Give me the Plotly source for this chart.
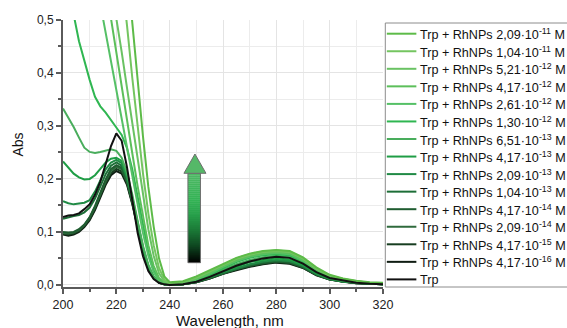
import plotly.graph_objects as go

# ---------------- data ----------------
wavelength = [200, 202, 204, 206, 208, 210, 212, 214, 216, 218, 220, 222, 224, 226, 228, 230,
              232, 234, 236, 238, 240, 245, 250, 255, 260, 265, 270, 275, 280, 285, 290, 295,
              300, 305, 310, 315, 320]

series_names = [
    "Trp + RhNPs 2,09·10<sup>-11</sup> M",
    "Trp + RhNPs 1,04·10<sup>-11</sup> M",
    "Trp + RhNPs 5,21·10<sup>-12</sup> M",
    "Trp + RhNPs 4,17·10<sup>-12</sup> M",
    "Trp + RhNPs 2,61·10<sup>-12</sup> M",
    "Trp + RhNPs 1,30·10<sup>-12</sup> M",
    "Trp + RhNPs 6,51·10<sup>-13</sup> M",
    "Trp + RhNPs 4,17·10<sup>-13</sup> M",
    "Trp + RhNPs 2,09·10<sup>-13</sup> M",
    "Trp + RhNPs 1,04·10<sup>-13</sup> M",
    "Trp + RhNPs 4,17·10<sup>-14</sup> M",
    "Trp + RhNPs 2,09·10<sup>-14</sup> M",
    "Trp + RhNPs 4,17·10<sup>-15</sup> M",
    "Trp + RhNPs 4,17·10<sup>-16</sup> M",
    "Trp",
]

abs_2_09e11 = [2.0, 1.9, 1.8, 1.7, 1.55, 1.42, 1.28, 1.15, 1.03, 0.92, 0.82, 0.72, 0.606, 0.494, 0.385, 0.280,
               0.185, 0.110, 0.050, 0.016, 0.005, 0.007, 0.016, 0.028, 0.040, 0.051, 0.059, 0.064, 0.066, 0.064, 0.052, 0.033,
               0.019, 0.012, 0.008, 0.005, 0.004]
abs_1_04e11 = [1.7, 1.6, 1.5, 1.4, 1.28, 1.16, 1.04, 0.93, 0.84, 0.75, 0.67, 0.585, 0.49, 0.39, 0.295, 0.21,
               0.135, 0.075, 0.032, 0.010, 0.003, 0.006, 0.014, 0.026, 0.038, 0.049, 0.057, 0.062, 0.064, 0.062, 0.050, 0.031,
               0.018, 0.011, 0.007, 0.004, 0.003]
abs_5_21e12 = [1.4, 1.3, 1.2, 1.1, 0.99, 0.88, 0.78, 0.70, 0.63, 0.565, 0.505, 0.44, 0.372, 0.305, 0.235, 0.168,
               0.105, 0.055, 0.022, 0.007, 0.002, 0.005, 0.013, 0.025, 0.038, 0.050, 0.058, 0.063, 0.065, 0.063, 0.050, 0.031,
               0.017, 0.011, 0.007, 0.004, 0.003]
abs_4_17e12 = [1.25, 1.15, 1.05, 0.95, 0.86, 0.78, 0.70, 0.63, 0.565, 0.506, 0.443, 0.378, 0.312, 0.248, 0.186, 0.127,
               0.075, 0.036, 0.013, 0.004, 0.001, 0.004, 0.012, 0.023, 0.036, 0.047, 0.055, 0.060, 0.062, 0.060, 0.048, 0.029,
               0.016, 0.010, 0.006, 0.003, 0.002]
abs_2_61e12 = [1.1, 0.98, 0.88, 0.79, 0.71, 0.64, 0.58, 0.53, 0.476, 0.422, 0.368, 0.313, 0.258, 0.202, 0.148, 0.098,
               0.055, 0.024, 0.008, 0.003, 0.001, 0.003, 0.010, 0.021, 0.034, 0.045, 0.053, 0.058, 0.060, 0.058, 0.046, 0.028,
               0.015, 0.009, 0.005, 0.003, 0.002]
abs_1_30e12 = [0.66, 0.58, 0.51, 0.46, 0.422, 0.387, 0.355, 0.337, 0.325, 0.312, 0.297, 0.283, 0.258, 0.218, 0.168, 0.112,
               0.062, 0.027, 0.009, 0.003, 0.001, 0.003, 0.009, 0.020, 0.032, 0.043, 0.051, 0.056, 0.058, 0.056, 0.045, 0.027,
               0.015, 0.009, 0.005, 0.003, 0.002]
abs_6_51e13 = [0.333, 0.316, 0.298, 0.278, 0.259, 0.251, 0.249, 0.251, 0.253, 0.256, 0.253, 0.240, 0.212, 0.170, 0.120, 0.074,
               0.038, 0.016, 0.005, 0.001, 0.0, 0.002, 0.008, 0.018, 0.029, 0.039, 0.047, 0.052, 0.055, 0.053, 0.042, 0.025,
               0.014, 0.008, 0.005, 0.003, 0.001]
abs_4_17e13 = [0.233, 0.222, 0.210, 0.203, 0.199, 0.200, 0.207, 0.219, 0.231, 0.238, 0.240, 0.234, 0.207, 0.165, 0.116, 0.071,
               0.036, 0.015, 0.005, 0.001, 0.0, 0.002, 0.007, 0.016, 0.026, 0.035, 0.043, 0.047, 0.050, 0.048, 0.038, 0.022,
               0.012, 0.007, 0.004, 0.002, 0.001]
abs_2_09e13 = [0.158, 0.154, 0.152, 0.153, 0.155, 0.160, 0.176, 0.197, 0.218, 0.231, 0.236, 0.230, 0.203, 0.162, 0.113, 0.069,
               0.035, 0.015, 0.005, 0.001, 0.0, 0.001, 0.006, 0.014, 0.024, 0.032, 0.039, 0.044, 0.047, 0.045, 0.036, 0.021,
               0.011, 0.007, 0.004, 0.002, 0.001]
abs_1_04e13 = [0.125, 0.128, 0.130, 0.132, 0.137, 0.146, 0.163, 0.186, 0.209, 0.225, 0.231, 0.225, 0.199, 0.159, 0.111, 0.068,
               0.034, 0.014, 0.005, 0.001, 0.0, 0.001, 0.006, 0.014, 0.023, 0.031, 0.038, 0.043, 0.046, 0.044, 0.035, 0.020,
               0.011, 0.006, 0.004, 0.002, 0.001]
abs_4_17e14 = [0.100, 0.099, 0.100, 0.105, 0.114, 0.128, 0.149, 0.174, 0.199, 0.219, 0.226, 0.221, 0.197, 0.158, 0.110, 0.067,
               0.034, 0.014, 0.005, 0.001, 0.0, 0.001, 0.005, 0.013, 0.022, 0.030, 0.036, 0.041, 0.044, 0.042, 0.033, 0.019,
               0.010, 0.006, 0.003, 0.002, 0.001]
abs_2_09e14 = [0.098, 0.097, 0.099, 0.104, 0.113, 0.127, 0.147, 0.171, 0.196, 0.215, 0.223, 0.218, 0.195, 0.156, 0.109, 0.066,
               0.033, 0.014, 0.005, 0.001, 0.0, 0.001, 0.006, 0.013, 0.022, 0.031, 0.037, 0.042, 0.045, 0.043, 0.034, 0.020,
               0.011, 0.006, 0.004, 0.002, 0.001]
abs_4_17e15 = [0.096, 0.095, 0.097, 0.102, 0.111, 0.124, 0.144, 0.168, 0.192, 0.211, 0.219, 0.214, 0.192, 0.154, 0.108, 0.065,
               0.033, 0.013, 0.004, 0.001, 0.0, 0.001, 0.005, 0.012, 0.021, 0.029, 0.035, 0.040, 0.043, 0.041, 0.032, 0.019,
               0.010, 0.006, 0.003, 0.002, 0.001]
abs_4_17e16 = [0.095, 0.093, 0.095, 0.100, 0.109, 0.122, 0.141, 0.165, 0.189, 0.207, 0.215, 0.210, 0.189, 0.152, 0.106, 0.064,
               0.032, 0.013, 0.004, 0.001, 0.0, 0.001, 0.005, 0.012, 0.021, 0.028, 0.034, 0.039, 0.042, 0.040, 0.032, 0.018,
               0.010, 0.006, 0.003, 0.002, 0.001]
abs_trp = [0.128, 0.131, 0.132, 0.135, 0.143, 0.152, 0.170, 0.195, 0.228, 0.262, 0.286, 0.272, 0.222, 0.158, 0.098, 0.054,
           0.026, 0.011, 0.004, 0.001, 0.0, 0.001, 0.006, 0.015, 0.026, 0.036, 0.044, 0.050, 0.053, 0.051, 0.040, 0.024,
           0.013, 0.008, 0.004, 0.002, 0.001]

series_values = [abs_2_09e11, abs_1_04e11, abs_5_21e12, abs_4_17e12, abs_2_61e12, abs_1_30e12,
                 abs_6_51e13, abs_4_17e13, abs_2_09e13, abs_1_04e13, abs_4_17e14, abs_2_09e14,
                 abs_4_17e15, abs_4_17e16, abs_trp]

x_ticks = [200, 220, 240, 260, 280, 300, 320]
y_ticks = [0.0, 0.1, 0.2, 0.3, 0.4, 0.5]

# ---------------- styles ----------------
colors = ['#5dbb48', '#74c560', '#6ac263', '#5cbf5a', '#55c066', '#2fb651', '#49ad5c',
          '#1f9d45', '#208a45', '#1d6e37', '#1f5c30', '#2f6a3c', '#173d20', '#0f1c12', '#111111']

W, H = 567, 328
L, R, T, B = 63.3, 382.7, 20.0, 287.0
FONT = "Liberation Sans, Arial, sans-serif"


def px(xp):
    return (xp - L) / (R - L)


def py(yp):
    return (B - yp) / (B - T)


fig = go.Figure()
order = list(range(len(series_values) - 1))[::-1] + [len(series_values) - 1]
for i in order:
    fig.add_trace(go.Scatter(x=wavelength, y=series_values[i], mode='lines', name=series_names[i],
                             line=dict(color=colors[i], width=2), showlegend=False))

axis_col = '#5a5a5a'
grid_col = '#e4e4e4'
fig.update_xaxes(range=[200, 320], tickvals=x_ticks, ticks='outside', ticklen=5, tickwidth=1.5,
                 tickcolor=axis_col, showline=True, linecolor=axis_col, linewidth=2,
                 showgrid=True, gridcolor=grid_col, gridwidth=1, zeroline=False,
                 tickfont=dict(family=FONT, size=12.5, color='#222'),
                 minor=dict(dtick=10, tick0=200, ticks='outside', ticklen=3, tickcolor=axis_col,
                            showgrid=True, gridcolor='#ececec', gridwidth=1))
fig.update_yaxes(range=[-0.004, 0.5], tickvals=y_ticks, tickformat='.1f', ticks='outside', ticklen=5,
                 tickwidth=1.5, tickcolor=axis_col, showline=True, linecolor=axis_col, linewidth=2,
                 showgrid=True, gridcolor=grid_col, gridwidth=1, zeroline=False,
                 tickfont=dict(family=FONT, size=12, color='#222'),
                 minor=dict(dtick=0.05, tick0=0, ticks='outside', ticklen=3, tickcolor=axis_col,
                            showgrid=True, gridcolor='#ececec', gridwidth=1))

shapes = []
annotations = []

# axis titles
annotations.append(dict(text="Abs", xref='paper', yref='paper', x=px(18), y=py(145), showarrow=False,
                        textangle=-90, font=dict(family=FONT, size=14, color='#111'),
                        xanchor='center', yanchor='middle'))
annotations.append(dict(text="Wavelength, nm", xref='paper', yref='paper', x=px(230), y=py(320),
                        showarrow=False, font=dict(family=FONT, size=15, color='#111'),
                        xanchor='center', yanchor='middle'))

# manual legend box
shapes.append(dict(type='rect', xref='paper', yref='paper', x0=px(385), x1=px(640), y0=py(287), y1=py(23),
                   line=dict(color='#8c8c8c', width=1), fillcolor='rgba(0,0,0,0)', layer='above'))
for i, name in enumerate(series_names):
    yy = 33.7 + i * 17.55
    shapes.append(dict(type='line', xref='paper', yref='paper', x0=px(386.5), x1=px(416), y0=py(yy), y1=py(yy),
                       line=dict(color=colors[i], width=2)))
    annotations.append(dict(text=name, xref='paper', yref='paper', x=px(418), y=py(yy + 0.5), showarrow=False,
                            xanchor='left', yanchor='middle', font=dict(family=FONT, size=12.6, color='#111')))

# gradient arrow (decoration)
def hex2rgb(h):
    h = h.lstrip('#')
    return tuple(int(h[k:k + 2], 16) for k in (0, 2, 4))


stops = [(173.3, '#4fb865'), (200, '#33b355'), (215, '#27a04a'), (230, '#1b7a37'), (245, '#0f4a22'), (262.7, '#000000')]


def color_at(yp):
    for (y0, c0), (y1, c1) in zip(stops[:-1], stops[1:]):
        if y0 <= yp <= y1:
            t = (yp - y0) / (y1 - y0)
            a, b = hex2rgb(c0), hex2rgb(c1)
            return 'rgb(%d,%d,%d)' % tuple(round(a[k] + (b[k] - a[k]) * t) for k in range(3))
    return stops[-1][1]


shaft_l, shaft_r = 188.0, 200.5
top_s, bot_s = 173.3, 262.7
n = 45
for k in range(n):
    y0 = top_s + (bot_s - top_s) * k / n
    y1 = top_s + (bot_s - top_s) * (k + 1) / n
    shapes.append(dict(type='rect', xref='paper', yref='paper', x0=px(shaft_l), x1=px(shaft_r),
                       y0=py(y1 + 0.3), y1=py(y0), fillcolor=color_at((y0 + y1) / 2), line=dict(width=0)))
shapes.append(dict(type='rect', xref='paper', yref='paper', x0=px(shaft_l), x1=px(shaft_r), y0=py(bot_s),
                   y1=py(top_s), line=dict(color='#6e6e6e', width=1), fillcolor='rgba(0,0,0,0)'))
hx0, hx1, hc, htip = 184.0, 206.0, 195.0, 154.0
path = 'M {a},{b} L {c},{d} L {e},{f} Z'.format(a=px(hx0), b=py(top_s), c=px(hc), d=py(htip), e=px(hx1), f=py(top_s))
shapes.append(dict(type='path', xref='paper', yref='paper', path=path, fillcolor='#55b868',
                   line=dict(color='#6e6e6e', width=1)))

fig.update_layout(width=W, height=H, margin=dict(l=63, r=184, t=20, b=41),
                  paper_bgcolor='white', plot_bgcolor='white', separators=', ',
                  showlegend=False, shapes=shapes, annotations=annotations,
                  font=dict(family=FONT, color='#222'))

fig.write_html("out.html")
